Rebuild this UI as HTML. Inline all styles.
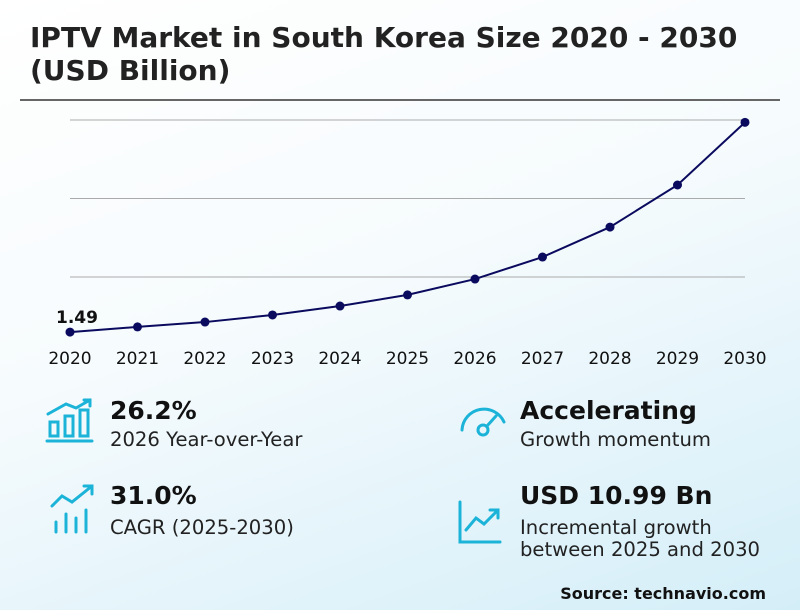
<!DOCTYPE html>
<html><head><meta charset="utf-8"><style>
body{margin:0;width:800px;height:610px;overflow:hidden;font-family:"DejaVu Sans","Liberation Sans",sans-serif;
background:linear-gradient(160deg,#ffffff 0%,#f6fbfd 45%,#d4eef8 100%);position:relative;color:#111}
.t{position:absolute;left:30px;top:21px;font-size:28px;font-weight:bold;line-height:33px;color:#222}
.rule{position:absolute;left:20px;top:99px;width:760px;height:2px;background:#666}
.k{position:absolute;font-size:25px;font-weight:bold}
.s{position:absolute;font-size:19.6px;line-height:22px;color:#222}
.src{position:absolute;right:34px;top:584px;font-size:16px;font-weight:bold}
svg{position:absolute;left:0;top:0}
</style></head><body>
<div class="t">IPTV Market in South Korea Size 2020 - 2030<br>(USD Billion)</div>
<div class="rule"></div>
<svg id="chart" width="800" height="380"></svg>

<svg width="800" height="610" style="pointer-events:none">
<g stroke="#1bb3d8" stroke-width="3" fill="none" stroke-linecap="round">
 <g>
  <rect x="50" y="422" width="8" height="14"/><rect x="65" y="416" width="8" height="20"/><rect x="80" y="410" width="8" height="26"/>
  <line x1="47" y1="441" x2="92" y2="441"/><polyline points="48,414 66,404 76,408 90,400"/><polyline points="84,400 90,400 90,406"/>
 </g>
 <g>
  <path d="M462 430 A22 22 0 0 1 504 422"/><circle cx="483" cy="430" r="5"/><line x1="487" y1="426" x2="496" y2="416"/>
 </g>
 <g>
  <polyline points="52,506 62,496 72,502 92,486"/><polyline points="84,486 92,486 92,494"/>
  <line x1="56" y1="522" x2="56" y2="532"/><line x1="66" y1="514" x2="66" y2="532"/><line x1="76" y1="518" x2="76" y2="532"/><line x1="86" y1="510" x2="86" y2="532"/>
 </g>
 <g>
  <polyline points="460,502 460,542 500,542"/><polyline points="466,530 476,518 484,524 498,510"/><polyline points="490,510 498,510 498,518"/>
 </g>
</g></svg>

<div class="k" style="left:110px;top:396px">26.2%</div>
<div class="s" style="left:110px;top:429px">2026 Year-over-Year</div>
<div class="k" style="left:520px;top:396px">Accelerating</div>
<div class="s" style="left:520px;top:429px">Growth momentum</div>
<div class="k" style="left:110px;top:481px">31.0%</div>
<div class="s" style="left:110px;top:517px">CAGR (2025-2030)</div>
<div class="k" style="left:520px;top:481px">USD 10.99 Bn</div>
<div class="s" style="left:520px;top:517px">Incremental growth<br>between 2025 and 2030</div>
<div class="src">Source: technavio.com</div>

<script>
const years=["2020","2021","2022","2023","2024","2025","2026","2027","2028","2029","2030"];
const values=[1.49,1.82,2.13,2.58,3.15,3.86,4.87,6.27,8.18,10.86,14.85];
const gridValues=[5,10,15];
const NS="http://www.w3.org/2000/svg";
const svg=document.getElementById("chart");
const x=i=>70+i*67.5;
const y=v=>355.5-v*15.7;
function mk(t,a){const e=document.createElementNS(NS,t);for(const k in a)e.setAttribute(k,a[k]);svg.appendChild(e);return e;}
gridValues.forEach(g=>{
 const l=mk("line",{x1:70,x2:745,y1:y(g),y2:y(g),stroke:"#aaa","stroke-width":1});
 
 
});
const p=mk("polyline",{points:values.map((v,i)=>x(i)+","+y(v)).join(" "),fill:"none",stroke:"#0a0a5e","stroke-width":2});


values.forEach((v,i)=>{
 const c=mk("circle",{cx:x(i),cy:y(v),r:4.5,fill:"#0a0a5e"});
 
 
});
years.forEach((yr,i)=>{
 const t=mk("text",{x:x(i),y:364,"text-anchor":"middle","font-size":17,fill:"#111"});
 t.textContent=yr;
 
 
});
const lab=mk("text",{x:x(0)+7,y:y(values[0])-9,"text-anchor":"middle","font-size":17,"font-weight":"bold",fill:"#111"});
lab.textContent=values[0].toFixed(2);


</script>
</body></html>
